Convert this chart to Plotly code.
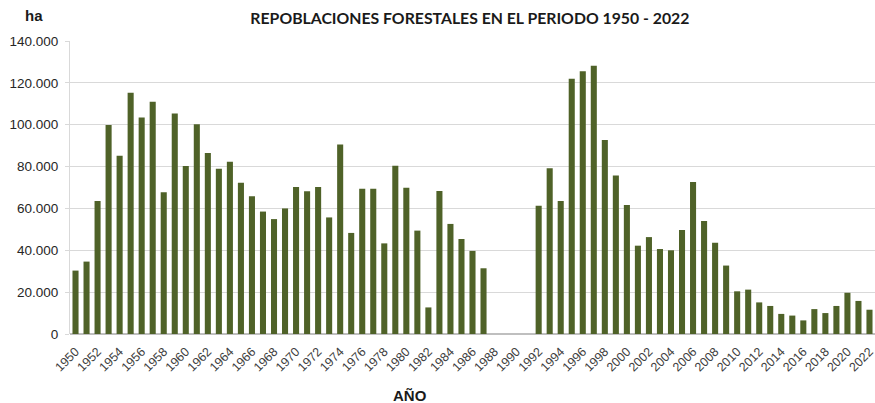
import plotly.graph_objects as go

# Superficie repoblada por año (ha); sin datos 1988-1991
years = list(range(1950, 2023))
hectares = [
    30300, 34600, 63500, 99900, 85200, 115300, 103500, 111000, 67700, 105400,
    80300, 100200, 86500, 79000, 82300, 72300, 65800, 58500, 54900, 60000,
    70200, 68200, 70200, 55700, 90600, 48300, 69400, 69400, 43300, 80400,
    69900, 49400, 12700, 68300, 52600, 45400, 39700, 31400, None, None,
    None, None, 61300, 79200, 63500, 122000, 125500, 128200, 92700, 75700,
    61600, 42200, 46300, 40600, 40000, 49700, 72600, 54000, 43600, 32700,
    20400, 21200, 15100, 13400, 9600, 8800, 6500, 11900, 10000, 13400,
    19700, 15800, 11600,
]
tick_years = list(range(1950, 2023, 2))

fig = go.Figure()

fig.add_trace(
    go.Bar(
        x=years,
        y=hectares,
        width=0.55,
        marker=dict(color='#4F6228', line=dict(width=0)),
    )
)

fig.update_layout(
    width=875,
    height=403,
    margin=dict(l=70, r=0, t=41, b=69),
    paper_bgcolor='white',
    plot_bgcolor='white',
    separators=',.',
    showlegend=False,
    title=dict(
        text='<b>REPOBLACIONES FORESTALES EN EL PERIODO 1950 - 2022</b>',
        x=0.537, xanchor='center', y=0.953, yanchor='middle',
        font=dict(family='Lato', size=15.8, color='#1a1a1a'),
    ),
    xaxis=dict(
        range=[1949.5, 2022.5],
        tickmode='array',
        tickvals=tick_years,
        ticktext=[str(t) for t in tick_years],
        tickangle=-45,
        tickfont=dict(family='Liberation Sans', size=12.5, color='#404040'),
        ticklabelstandoff=7,
        ticklabeloverflow='allow',
        showgrid=False,
        showline=False,
        ticks='',
        automargin=False,
    ),
    yaxis=dict(
        range=[0, 140000],
        dtick=20000,
        tickformat=',d',
        tickfont=dict(family='Liberation Sans', size=13.5, color='#262626'),
        showgrid=True,
        gridcolor='#d9d9d9',
        gridwidth=1,
        zeroline=True,
        zerolinecolor='#bfbfbf',
        showline=True,
        linecolor='#d9d9d9',
        ticks='outside',
        ticklen=4,
        tickcolor='#d9d9d9',
        ticklabelstandoff=4,
        automargin=False,
    ),
    annotations=[
        dict(
            text='<b>ha</b>', xref='paper', yref='paper',
            x=-0.045, y=1.088, xanchor='center', yanchor='middle',
            showarrow=False,
            font=dict(family='Liberation Sans', size=15, color='#1a1a1a'),
        ),
        dict(
            text='<b>AÑO</b>', xref='paper', yref='paper',
            x=0.422, y=-0.21, xanchor='center', yanchor='middle',
            showarrow=False,
            font=dict(family='Liberation Sans', size=15, color='#1a1a1a'),
        ),
    ],
)

# quitar el margen por defecto del body para que la figura ocupe la ventana
fig.write_html(
    "out.html",
    config={'displayModeBar': False},
    post_script="document.body.style.margin='0';",
)
